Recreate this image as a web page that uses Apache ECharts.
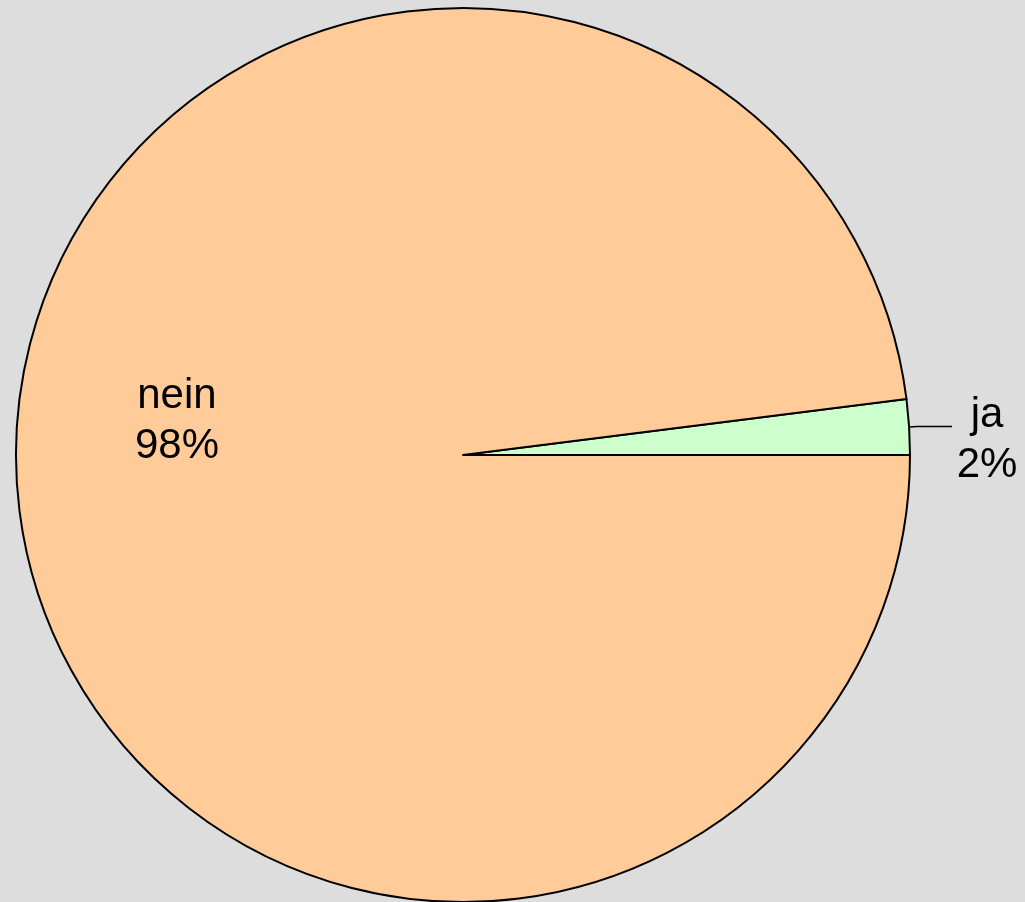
<!DOCTYPE html>
<html>
<head>
<meta charset="utf-8">
<script src="https://cdn.jsdelivr.net/npm/echarts@6/dist/echarts.min.js"></script>
<style>
html,body{margin:0;padding:0;background:#dddddd;}
#chart{width:1025px;height:902px;}
</style>
</head>
<body>
<div id="chart"></div>
<script>
const categories = ['ja', 'nein'];
const values = [2, 98];
const colors = ['#ccffcc', '#ffcc99'];

const chart = echarts.init(document.getElementById('chart'));
const data = categories.map((name, i) => ({
  name: name,
  value: values[i],
  itemStyle: { color: colors[i] },
  label: i === 0 ? { position: 'outside' } : { position: 'inside' },
  labelLine: { show: i === 0 }
}));

chart.setOption({
  backgroundColor: '#dddddd',
  animation: false,
  series: [{
    type: 'pie',
    center: [463, 455],
    radius: 447,
    startAngle: 0,
    clockwise: false,
    avoidLabelOverlap: false,
    itemStyle: { borderColor: '#000000', borderWidth: 2 },
    emphasis: { disabled: true },
    label: {
      formatter: function (p) { return '{a|' + p.name + '}\n{a|' + Math.round(p.percent) + '%}'; },
      color: '#000000',
      fontFamily: 'Liberation Sans, Arial, sans-serif',
      fontSize: 42,
      distanceToLabelLine: 0,
      rich: {
        a: { fontSize: 42, lineHeight: 50, width: 70, align: 'center', color: '#000000', fontFamily: 'Liberation Sans, Arial, sans-serif' }
      }
    },
    labelLine: {
      length: 8,
      length2: 35,
      lineStyle: { color: '#000000', width: 1.5 }
    },
    labelLayout: function (params) {
      if (params.dataIndex === 1) {
        return { dx: -60, dy: -48 };
      }
      return { dy: 14 };
    },
    data: data
  }]
});
</script>
</body>
</html>
